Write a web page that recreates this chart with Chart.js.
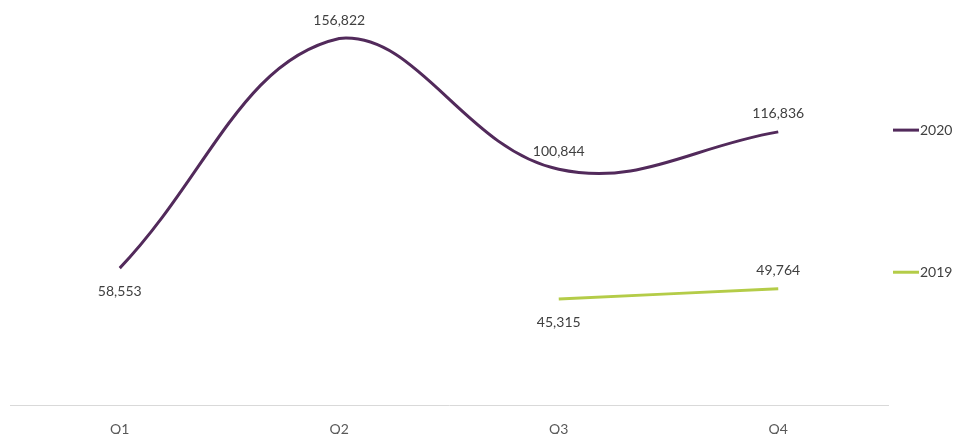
<!DOCTYPE html>
<html>
<head>
<meta charset="utf-8">
<script src="https://cdn.jsdelivr.net/npm/chart.js@4/dist/chart.umd.min.js"></script>
<style>
  html, body { margin: 0; padding: 0; background: #fff; }
  #wrap { width: 957px; height: 434px; }
</style>
</head>
<body>
<div id="wrap"><canvas id="chartQuarter" width="957" height="434"></canvas></div>
<script>
const quarters = ['Q1', 'Q2', 'Q3', 'Q4'];
const values2020 = [58553, 156822, 100844, 116836];
const values2019 = [null, null, 45315, 49764];
// label side per point: 1 = above, -1 = below
const side2020 = [-1, 1, 1, 1];
const side2019 = [0, 0, -1, 1];

(function () {
  const purple = '#522a5b';
  const green = '#b4cc48';
  const fontFamily = 'Lato, "Open Sans", sans-serif';

  const pointLabels = {
    id: 'pointLabels',
    afterDatasetsDraw(chart) {
      const ctx = chart.ctx;
      ctx.save();
      ctx.font = '14px ' + fontFamily;
      ctx.fillStyle = '#404040';
      ctx.textAlign = 'center';
      ctx.textBaseline = 'middle';
      chart.data.datasets.forEach((ds, i) => {
        const meta = chart.getDatasetMeta(i);
        meta.data.forEach((pt, j) => {
          const v = ds.data[j];
          if (v == null) return;
          const s = ds.labelSide[j];
          const y = s > 0 ? pt.y - 18 : pt.y + 23;
          ctx.fillText(v.toLocaleString('en-US'), pt.x, y);
        });
      });
      ctx.restore();
    },
  };

  const sideLegend = {
    id: 'sideLegend',
    afterDraw(chart) {
      const ctx = chart.ctx;
      const area = chart.chartArea;
      const x = area.right + 5;
      const rows = [0.265, 0.645];
      ctx.save();
      ctx.font = '14px ' + fontFamily;
      ctx.textBaseline = 'middle';
      ctx.textAlign = 'left';
      chart.data.datasets.forEach((ds, i) => {
        const y = area.top + (area.bottom - area.top) * rows[i];
        ctx.strokeStyle = ds.borderColor;
        ctx.lineWidth = 3;
        ctx.beginPath();
        ctx.moveTo(x, y);
        ctx.lineTo(x + 26, y);
        ctx.stroke();
        ctx.fillStyle = '#404040';
        ctx.fillText(ds.label, x + 27, y);
      });
      ctx.restore();
    },
  };

  new Chart(document.getElementById('chartQuarter'), {
    type: 'line',
    data: {
      labels: quarters,
      datasets: [
        { label: '2020', data: values2020, labelSide: side2020, borderColor: purple, borderWidth: 3, tension: 0.4, pointRadius: 0, spanGaps: false },
        { label: '2019', data: values2019, labelSide: side2019, borderColor: green, borderWidth: 3, tension: 0.4, pointRadius: 0, spanGaps: false },
      ],
    },
    options: {
      responsive: false,
      animation: false,
      layout: { padding: { left: 10, right: 69, top: 31, bottom: 0 } },
      plugins: { legend: { display: false }, tooltip: { enabled: false } },
      scales: {
        x: {
          offset: true,
          grid: { display: false },
          border: { color: '#d9d9d9', width: 1 },
          ticks: { color: '#595959', font: { size: 14, family: fontFamily }, padding: 8 },
          afterFit(scale) { scale.height = 29; },
        },
        y: { display: false, min: 0, max: 160000 },
      },
    },
    plugins: [pointLabels, sideLegend],
  });
})();
</script>
</body>
</html>
